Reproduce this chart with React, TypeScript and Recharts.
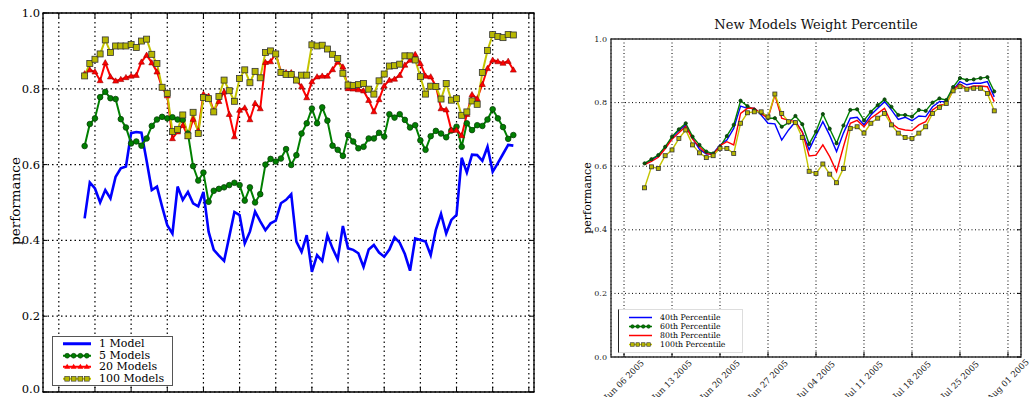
import React from 'react';
import { LineChart, Line, XAxis, YAxis, CartesianGrid, ReferenceArea, Legend } from 'recharts';

const SERIF = '"DejaVu Serif", "Liberation Serif", serif';

// ---- left chart: performance vs ensemble size ----
const MODEL_NAMES = ['1 Model', '5 Models', '20 Models', '100 Models'];

const ONE_MODEL = [
  0.458, 0.553, 0.537, 0.5, 0.533, 0.511, 0.568, 0.59, 0.595, 0.683,
  0.686, 0.684, 0.61, 0.533, 0.542, 0.489, 0.44, 0.418, 0.542, 0.507,
  0.528, 0.498, 0.49, 0.528, 0.423, 0.375, 0.36, 0.346, 0.41, 0.475,
  0.467, 0.392, 0.423, 0.476, 0.45, 0.427, 0.445, 0.452, 0.498, 0.507,
  0.522, 0.397, 0.37, 0.414, 0.317, 0.361, 0.346, 0.414, 0.379, 0.35,
  0.438, 0.379, 0.375, 0.366, 0.33, 0.376, 0.388, 0.368, 0.357, 0.376,
  0.408, 0.394, 0.364, 0.32, 0.405, 0.401, 0.397, 0.361, 0.428, 0.47,
  0.418, 0.454, 0.467, 0.618, 0.579, 0.626, 0.625, 0.61, 0.647, 0.581,
  0.604, 0.628, 0.652, 0.65,
];

const FIVE_MODELS = [
  0.649, 0.707, 0.722, 0.778, 0.792, 0.775, 0.773, 0.72, 0.698, 0.656,
  0.661, 0.65, 0.669, 0.702, 0.719, 0.726, 0.722, 0.725, 0.719, 0.718,
  0.682, 0.596, 0.558, 0.579, 0.502, 0.531, 0.536, 0.54, 0.546, 0.552,
  0.546, 0.505, 0.54, 0.5, 0.522, 0.6, 0.615, 0.608, 0.616, 0.641,
  0.599, 0.625, 0.682, 0.709, 0.748, 0.709, 0.751, 0.716, 0.65, 0.639,
  0.623, 0.678, 0.661, 0.643, 0.647, 0.669, 0.669, 0.684, 0.674, 0.733,
  0.724, 0.733, 0.718, 0.698, 0.704, 0.664, 0.639, 0.675, 0.689, 0.682,
  0.672, 0.69, 0.7, 0.647, 0.709, 0.691, 0.704, 0.702, 0.719, 0.746,
  0.722, 0.699, 0.668, 0.678,
];

const TWENTY_MODELS = [
  0.84, 0.85, 0.845, 0.822, 0.869, 0.832, 0.821, 0.825, 0.83, 0.834,
  0.836, 0.871, 0.889, 0.869, 0.845, 0.803, 0.782, 0.669, 0.687, 0.704,
  0.675, 0.72, 0.69, 0.786, 0.781, 0.742, 0.767, 0.792, 0.733, 0.674,
  0.744, 0.75, 0.719, 0.762, 0.748, 0.87, 0.872, 0.893, 0.845, 0.843,
  0.843, 0.823, 0.806, 0.777, 0.819, 0.832, 0.834, 0.834, 0.851, 0.871,
  0.858, 0.801, 0.8, 0.798, 0.795, 0.77, 0.74, 0.772, 0.808, 0.823,
  0.826, 0.836, 0.863, 0.876, 0.891, 0.867, 0.834, 0.832, 0.807, 0.748,
  0.745, 0.691, 0.691, 0.677, 0.733, 0.785, 0.774, 0.812, 0.854, 0.876,
  0.872, 0.868, 0.873, 0.85,
];

const HUNDRED_MODELS = [
  0.834, 0.867, 0.878, 0.892, 0.929, 0.896, 0.913, 0.913, 0.913, 0.917,
  0.909, 0.926, 0.931, 0.891, 0.867, 0.804, 0.788, 0.687, 0.693, 0.731,
  0.676, 0.738, 0.682, 0.777, 0.774, 0.739, 0.78, 0.823, 0.795, 0.767,
  0.827, 0.85, 0.816, 0.846, 0.829, 0.896, 0.9, 0.892, 0.843, 0.838,
  0.838, 0.823, 0.836, 0.836, 0.916, 0.913, 0.915, 0.905, 0.891, 0.88,
  0.841, 0.81, 0.809, 0.811, 0.814, 0.799, 0.786, 0.821, 0.839, 0.86,
  0.861, 0.865, 0.887, 0.887, 0.876, 0.832, 0.786, 0.807, 0.806, 0.773,
  0.814, 0.77, 0.774, 0.73, 0.739, 0.768, 0.759, 0.843, 0.901, 0.943,
  0.938, 0.935, 0.943, 0.942,
];

const PERF_TICKS = [0, 0.2, 0.4, 0.6, 0.8, 1.0];
const LEFT_X_TICKS = [-5, 2, 9, 16, 23, 30, 37, 44, 51, 58, 65, 72, 79, 86];
const LEFT_X_DOMAIN: [number, number] = [-8.06, 87];

// ---- right chart: new models weight percentile ----
const PCT_NAMES = ['40th Percentile', '60th Percentile', '80th Percentile', '100th Percentile'];
const FIRST_DAY = 3; // Jun 09 2005, days counted from Jun 06 2005

const P40 = [
  0.607, 0.62, 0.633, 0.658, 0.69, 0.712, 0.73, 0.688, 0.653, 0.638,
  0.64, 0.667, 0.682, 0.719, 0.789, 0.782, 0.782, 0.761, 0.735, 0.733,
  0.682, 0.714, 0.74, 0.708, 0.652, 0.697, 0.74, 0.697, 0.646, 0.704,
  0.751, 0.754, 0.73, 0.761, 0.782, 0.803, 0.777, 0.747, 0.754, 0.743,
  0.758, 0.756, 0.787, 0.803, 0.803, 0.84, 0.866, 0.856, 0.861, 0.861,
  0.866, 0.818,
];
const P60 = [
  0.609, 0.622, 0.635, 0.661, 0.693, 0.716, 0.735, 0.693, 0.667, 0.646,
  0.64, 0.661, 0.695, 0.73, 0.806, 0.789, 0.777, 0.768, 0.751, 0.751,
  0.724, 0.737, 0.758, 0.732, 0.67, 0.709, 0.764, 0.718, 0.672, 0.728,
  0.777, 0.779, 0.744, 0.771, 0.792, 0.81, 0.787, 0.761, 0.761, 0.756,
  0.777, 0.774, 0.8, 0.813, 0.808, 0.849, 0.877, 0.871, 0.873, 0.877,
  0.88, 0.835,
];
const P80 = [
  0.605, 0.615, 0.628, 0.655, 0.685, 0.705, 0.725, 0.685, 0.66, 0.64,
  0.635, 0.665, 0.677, 0.667, 0.766, 0.782, 0.782, 0.765, 0.751, 0.824,
  0.751, 0.744, 0.74, 0.707, 0.632, 0.635, 0.667, 0.63, 0.583, 0.661,
  0.735, 0.744, 0.724, 0.751, 0.766, 0.782, 0.735, 0.719, 0.714, 0.712,
  0.73, 0.74, 0.777, 0.792, 0.795, 0.84, 0.858, 0.845, 0.852, 0.852,
  0.85, 0.803,
];
const P100 = [
  0.532, 0.598, 0.593, 0.633, 0.651, 0.687, 0.714, 0.667, 0.642, 0.627,
  0.633, 0.656, 0.656, 0.64, 0.735, 0.768, 0.771, 0.771, 0.755, 0.827,
  0.766, 0.74, 0.737, 0.69, 0.584, 0.577, 0.607, 0.575, 0.548, 0.593,
  0.719, 0.724, 0.704, 0.735, 0.751, 0.766, 0.73, 0.704, 0.69, 0.687,
  0.704, 0.724, 0.766, 0.785, 0.797, 0.837, 0.85, 0.842, 0.845, 0.845,
  0.829, 0.774,
];

const DATE_TICKS = [0, 7, 14, 21, 28, 35, 42, 49, 56];
const DATE_LABELS = [
  'Jun 06 2005', 'Jun 13 2005', 'Jun 20 2005', 'Jun 27 2005', 'Jul 04 2005',
  'Jul 11 2005', 'Jul 18 2005', 'Jul 25 2005', 'Aug 01 2005',
];
const RIGHT_X_DOMAIN: [number, number] = [-1.9, 57.9];

const leftData = ONE_MODEL.map((v, i) => ({
  i,
  m1: v,
  m5: FIVE_MODELS[i],
  m20: TWENTY_MODELS[i],
  m100: HUNDRED_MODELS[i],
}));

const rightData = P40.map((v, i) => ({
  day: FIRST_DAY + i,
  p40: v,
  p60: P60[i],
  p80: P80[i],
  p100: P100[i],
}));

const BLUE = '#0000ff';
const GREEN = '#008000';
const RED = '#ff0000';
const YELLOW = '#c4c400';

// marker shapes
function circleDot(r: number, fill: string, edge: string) {
  return (p: any) => (
    <circle key={`c-${p.index}`} cx={p.cx} cy={p.cy} r={r} fill={fill} stroke={edge} strokeWidth={0.8} />
  );
}
function triangleDot(s: number) {
  return (p: any) => (
    <path
      key={`t-${p.index}`}
      d={`M${p.cx},${p.cy - s} L${p.cx + s},${p.cy + s * 0.75} L${p.cx - s},${p.cy + s * 0.75} Z`}
      fill={RED}
      stroke="#900"
      strokeWidth={0.6}
    />
  );
}
function squareDot(s: number) {
  return (p: any) => (
    <rect
      key={`s-${p.index}`}
      x={p.cx - s / 2}
      y={p.cy - s / 2}
      width={s}
      height={s}
      fill="#b8b800"
      stroke="#333"
      strokeWidth={0.8}
    />
  );
}

// legend order and marker per series key
const SERIES_ORDER = ['m1', 'm5', 'm20', 'm100', 'p40', 'p60', 'p80', 'p100'];
const MARKERS: Record<string, string> = { m1: 'none', m5: 'circle', m20: 'tri', m100: 'square', p40: 'none', p60: 'circle', p80: 'none', p100: 'square' };

function LegendSample({ kind, color, w, h, small }: { kind: string; color: string; w: number; h: number; small: boolean }) {
  const cy = h / 2;
  const xs = [w * 0.15, w * 0.38, w * 0.62, w * 0.85];
  const s = small ? 2.2 : 3;
  return (
    <svg width={w} height={h} style={{ display: 'block', flex: 'none' }}>
      <line x1={0} x2={w} y1={cy} y2={cy} stroke={color} strokeWidth={kind === 'none' && !small ? 3 : small ? 1.5 : 2} />
      {kind === 'circle' && xs.map((x) => <circle key={x} cx={x} cy={cy} r={s * 0.8} fill={GREEN} stroke="#030" strokeWidth={0.6} />)}
      {kind === 'tri' && xs.map((x) => <path key={x} d={`M${x},${cy - s} L${x + s},${cy + s * 0.7} L${x - s},${cy + s * 0.7} Z`} fill={RED} />)}
      {kind === 'square' && xs.map((x) => <rect key={x} x={x - s * 0.8} y={cy - s * 0.8} width={s * 1.6} height={s * 1.6} fill="#b8b800" stroke="#333" strokeWidth={0.6} />)}
    </svg>
  );
}

function makeLegend(opts: { small: boolean }) {
  const { small } = opts;
  const rowH = small ? 9 : 11.5;
  return (props: any) => {
    const items = [...(props.payload || [])].sort(
      (a: any, b: any) => SERIES_ORDER.indexOf(a.dataKey) - SERIES_ORDER.indexOf(b.dataKey),
    );
    return (
      <div
        style={{
          background: '#fff',
          border: small ? '1px solid #ddd' : '1px solid #555',
          borderLeft: small ? '1.5px solid #222' : '1px solid #555',
          padding: small ? '3px 6px 3px 10px' : '1px 6px 1px 10px',
          fontFamily: SERIF,
          fontSize: small ? 7.8 : 11,
          lineHeight: `${rowH}px`,
          color: '#000',
          boxSizing: 'border-box',
        }}
      >
        {items.map((it: any) => (
          <div key={it.value} style={{ display: 'flex', alignItems: 'center', height: rowH }}>
            <LegendSample kind={MARKERS[it.dataKey] || 'none'} color={it.color} w={small ? 23 : 28} h={rowH} small={small} />
            <span style={{ marginLeft: 8, whiteSpace: 'nowrap' }}>{it.value}</span>
          </div>
        ))}
      </div>
    );
  };
}

function AxisTitle({ px, py, size }: { px: number; py: number; size: number }) {
  return (
    <text x={px} y={py} transform={`rotate(-90, ${px}, ${py})`} textAnchor="middle" dominantBaseline="central" fontFamily={SERIF} fontSize={size} fill="#000">
      performance
    </text>
  );
}

export default function App() {
  const leftYTick = (p: any) => {
    const v = Number(p.payload.value);
    return (
      <g>
        <text x={40} y={v === 0 ? p.y - 3 : p.y} textAnchor="end" dominantBaseline="central" fontFamily={SERIF} fontSize={11.5} fill="#000">
          {v.toFixed(1)}
        </text>
        <line x1={43} x2={47} y1={p.y} y2={p.y} stroke="#000" />
        <line x1={530} x2={534} y1={p.y} y2={p.y} stroke="#000" />
      </g>
    );
  };
  const leftXTick = (p: any) => (
    <g>
      <line x1={p.x} x2={p.x} y1={392} y2={387} stroke="#000" />
      <line x1={p.x} x2={p.x} y1={13} y2={18} stroke="#000" />
    </g>
  );
  const rightYTick = (p: any) => (
    <g>
      <text x={47} y={p.y} textAnchor="end" dominantBaseline="central" fontFamily={SERIF} fontSize={8} fill="#222">
        {Number(p.payload.value).toFixed(1)}
      </text>
      <line x1={457} x2={461} y1={p.y} y2={p.y} stroke="#000" />
    </g>
  );
  const rightXTick = (p: any) => {
    const idx = DATE_TICKS.indexOf(p.payload.value);
    const cy = 380;
    return (
      <g>
        <line x1={p.x} x2={p.x} y1={357} y2={352} stroke="#000" />
        <text
          x={p.x}
          y={cy}
          transform={`rotate(-45, ${p.x}, ${cy})`}
          textAnchor="middle"
          dominantBaseline="central"
          fontFamily={SERIF}
          fontSize={8.5}
          fill="#222"
        >
          {DATE_LABELS[idx]}
        </text>
      </g>
    );
  };

  return (
    <div style={{ position: 'absolute', left: 0, top: 0, width: 1031, height: 397, overflow: 'hidden', background: '#fff' }}>
      <div style={{ position: 'absolute', left: 0, top: 0 }}>
        <LineChart width={560} height={397} data={leftData} margin={{ top: 13, right: 26, left: 0, bottom: 0 }}>
          <CartesianGrid stroke="#000" strokeDasharray="1.5 3" strokeWidth={1.2} />
          <XAxis
            dataKey="i"
            type="number"
            domain={LEFT_X_DOMAIN}
            allowDataOverflow
            ticks={LEFT_X_TICKS}
            interval={0}
            height={5}
            axisLine={false}
            tickLine={false}
            tick={leftXTick}
          />
          <YAxis
            type="number"
            domain={[0, 1]}
            allowDataOverflow
            ticks={PERF_TICKS}
            interval={0}
            width={43}
            axisLine={false}
            tickLine={false}
            tickSize={0}
            tick={leftYTick}
            label={<AxisTitle px={15} py={201} size={13.5} />}
          />
          <ReferenceArea x1={LEFT_X_DOMAIN[0]} x2={LEFT_X_DOMAIN[1]} y1={0} y2={1} fill="none" stroke="#000" strokeWidth={1.3} ifOverflow="visible" />
          <Line type="linear" dataKey="m1" name={MODEL_NAMES[0]} stroke={BLUE} strokeWidth={2.6} dot={false} activeDot={false} isAnimationActive={false} />
          <Line type="linear" dataKey="m5" name={MODEL_NAMES[1]} stroke={GREEN} strokeWidth={2} dot={circleDot(2.8, GREEN, '#0a400a')} activeDot={false} isAnimationActive={false} />
          <Line type="linear" dataKey="m20" name={MODEL_NAMES[2]} stroke={RED} strokeWidth={2} dot={triangleDot(3)} activeDot={false} isAnimationActive={false} />
          <Line type="linear" dataKey="m100" name={MODEL_NAMES[3]} stroke={YELLOW} strokeWidth={2} dot={squareDot(6)} activeDot={false} isAnimationActive={false} />
          <Legend
            layout="vertical"
            align="center"
            verticalAlign="middle"
            content={makeLegend({ small: false })}
            wrapperStyle={{ left: 52, top: 336, width: 121, height: 48, bottom: 'auto', right: 'auto' }}
          />
        </LineChart>
      </div>

      <div
        style={{
          position: 'absolute',
          left: 611,
          width: 410,
          top: 16,
          textAlign: 'center',
          fontFamily: SERIF,
          fontSize: 13,
          lineHeight: '18px',
          color: '#111',
        }}
      >
        New Models Weight Percentile
      </div>

      <div style={{ position: 'absolute', left: 560, top: 0 }}>
        <LineChart width={471} height={397} data={rightData} margin={{ top: 39, right: 10, left: 0, bottom: 0 }}>
          <CartesianGrid stroke="#000" strokeDasharray="1 2.5" strokeWidth={1} />
          <XAxis
            dataKey="day"
            type="number"
            domain={RIGHT_X_DOMAIN}
            allowDataOverflow
            ticks={DATE_TICKS}
            interval={0}
            height={40}
            axisLine={false}
            tickLine={false}
            tick={rightXTick}
          />
          <YAxis
            type="number"
            domain={[0, 1]}
            allowDataOverflow
            ticks={PERF_TICKS}
            interval={0}
            width={51}
            axisLine={false}
            tickLine={false}
            tickSize={0}
            tick={rightYTick}
            label={<AxisTitle px={27} py={198} size={11} />}
          />
          <ReferenceArea x1={RIGHT_X_DOMAIN[0]} x2={RIGHT_X_DOMAIN[1]} y1={0} y2={1} fill="none" stroke="#333" strokeWidth={1.4} ifOverflow="visible" />
          <Line type="linear" dataKey="p40" name={PCT_NAMES[0]} stroke={BLUE} strokeWidth={1.4} dot={false} activeDot={false} isAnimationActive={false} />
          <Line type="linear" dataKey="p60" name={PCT_NAMES[1]} stroke={GREEN} strokeWidth={1.4} dot={circleDot(1.6, '#0a5a0a', '#063806')} activeDot={false} isAnimationActive={false} />
          <Line type="linear" dataKey="p80" name={PCT_NAMES[2]} stroke={RED} strokeWidth={1.4} dot={false} activeDot={false} isAnimationActive={false} />
          <Line type="linear" dataKey="p100" name={PCT_NAMES[3]} stroke={YELLOW} strokeWidth={1.4} dot={squareDot(4)} activeDot={false} isAnimationActive={false} />
          <Legend
            layout="vertical"
            align="center"
            verticalAlign="middle"
            content={makeLegend({ small: true })}
            wrapperStyle={{ left: 58, top: 309, width: 125, height: 42, bottom: 'auto', right: 'auto' }}
          />
        </LineChart>
      </div>
    </div>
  );
}
